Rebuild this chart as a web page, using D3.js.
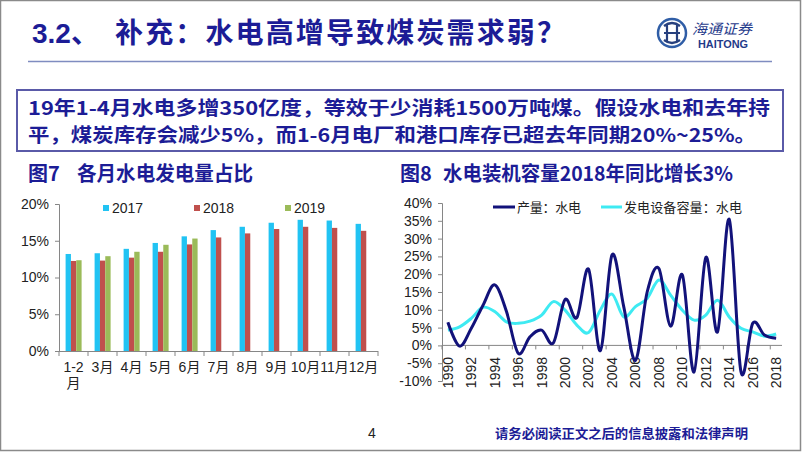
<!DOCTYPE html>
<html><head><meta charset="utf-8">
<script src="https://cdn.jsdelivr.net/npm/d3@7"></script>
<style>
html,body{margin:0;padding:0;background:#fff;}
svg{display:block;}
</style></head>
<body>
<script>
// ---- data ----
const months = ["1-2月","3月","4月","5月","6月","7月","8月","9月","10月","11月","12月"];
const barSeries = ["2017","2018","2019"];
const share2017 = [13.2,13.3,13.9,14.7,15.6,16.45,16.9,17.45,17.85,17.75,17.3];
const share2018 = [12.25,12.3,12.7,13.5,14.5,15.45,16.0,16.6,16.9,16.75,16.35];
const share2019 = [12.35,12.9,13.5,14.45,15.3];
const barTicks = [0,5,10,15,20];

const years = d3.range(1990, 2019);
const lineSeries = ["产量：水电","发电设备容量：水电"];
const hydroOutput = [6.5,-0.2,4.8,11.3,17.0,9.5,-2.2,2.4,4.3,0.7,12.9,7.8,21.4,-1.5,25.4,10.9,-4.2,15.0,21.6,5.4,19.8,-7.5,24.7,3.8,35.4,-7.4,6.2,2.9,2.0];
const hydroCapacity = [4.3,5.2,7.6,10.7,9.5,6.6,6.2,6.8,8.5,12.3,9.9,5.7,3.6,9.9,14.4,8.0,10.9,13.2,18.4,14.1,9.9,7.1,8.5,12.7,8.0,4.8,3.8,2.6,3.2];
const lineTicks = [-10,-5,0,5,10,15,20,25,30,35,40];

const NAVY = "#1c1c96";
const CJK = "'Noto Sans CJK SC','Liberation Sans',sans-serif";
const LAT = "'Liberation Sans','Noto Sans CJK SC',sans-serif";

const svg = d3.select("body").append("svg").attr("width",802).attr("height",452);

// slide frame
svg.append("rect").attr("x",0.5).attr("y",0.5).attr("width",800).attr("height",450)
  .attr("fill","#fff").attr("stroke","#8a8a8a").attr("stroke-width",1.5);

// title
svg.append("text").attr("x",32).attr("y",43).attr("fill",NAVY)
  .style("font-family",LAT).style("font-weight","bold").style("font-size","28px").text("3.2、");
svg.append("text").attr("x",115).attr("y",43).attr("fill",NAVY)
  .style("font-family",CJK).style("font-weight","bold").style("font-size","28px")
  .attr("textLength",450).attr("lengthAdjust","spacing").text("补充：水电高增导致煤炭需求弱？");
svg.append("line").attr("x1",28).attr("x2",772).attr("y1",61.5).attr("y2",61.5)
  .attr("stroke","#7f8cc0").attr("stroke-width",1.5);

// logo
const logo = svg.append("g");
logo.append("circle").attr("cx",672).attr("cy",33).attr("r",14).attr("fill","none").attr("stroke","#2f5da6").attr("stroke-width",2.5);
logo.append("path").attr("d","M664,26 Q672,20 680,26 M664,40 Q672,46 680,40 M667,24 L667,42 M677,24 L677,42 M664,33 L680,33")
  .attr("fill","none").attr("stroke","#27407e").attr("stroke-width",2.2);
logo.append("text").attr("x",692).attr("y",34).attr("fill","#1f3a8a")
  .style("font-family",CJK).style("font-size","14px").style("font-style","italic")
  .attr("textLength",60).attr("lengthAdjust","spacingAndGlyphs").text("海通证券");
logo.append("text").attr("x",698).attr("y",48).attr("fill","#1f3a8a")
  .style("font-family",LAT).style("font-weight","bold").style("font-size","10px")
  .attr("textLength",50).attr("lengthAdjust","spacingAndGlyphs").text("HAITONG");

// text box
svg.append("rect").attr("x",17).attr("y",90).attr("width",766).attr("height",61)
  .attr("fill","#fff").attr("stroke","#5a5aa8").attr("stroke-width",2);
svg.append("text").attr("x",28).attr("y",115).attr("fill",NAVY)
  .style("font-family",CJK).style("font-weight","bold").style("font-size","19px")
  .attr("textLength",742).attr("lengthAdjust","spacingAndGlyphs")
  .text("19年1-4月水电多增350亿度，等效于少消耗1500万吨煤。假设水电和去年持");
svg.append("text").attr("x",28).attr("y",142).attr("fill",NAVY)
  .style("font-family",CJK).style("font-weight","bold").style("font-size","19px")
  .attr("textLength",728).attr("lengthAdjust","spacingAndGlyphs")
  .text("平，煤炭库存会减少5%，而1-6月电厂和港口库存已超去年同期20%~25%。");

// chart titles
function chartTitle(x, num, x2, w, txt){
  svg.append("text").attr("x",x).attr("y",181).attr("fill",NAVY)
    .style("font-family",CJK).style("font-weight","bold").style("font-size","20px").text(num);
  svg.append("text").attr("x",x2).attr("y",181).attr("fill",NAVY)
    .style("font-family",CJK).style("font-weight","bold").style("font-size","20px")
    .attr("textLength",w).attr("lengthAdjust","spacingAndGlyphs").text(txt);
}
chartTitle(28,"图7",77,176,"各月水电发电量占比");
chartTitle(400,"图8",443,290,"水电装机容量2018年同比增长3%");

// ---------- left: bar chart ----------
const xB = d3.scaleBand().domain(months).range([59,378]).padding(0);
const xSub = d3.scaleBand().domain(barSeries).range([6.6,22.6]).padding(0);
const yB = d3.scaleLinear().domain([0,20]).range([351,204]);
const barColors = {"2017":"#21c3f3","2018":"#c0504d","2019":"#9bbb59"};
const barData = {"2017":share2017,"2018":share2018,"2019":share2019};

const gB = svg.append("g");
barSeries.forEach(s=>{
  gB.selectAll(null).data(barData[s]).enter().append("rect")
    .attr("x",(d,i)=>xB(months[i])+xSub(s))
    .attr("width",xSub.bandwidth())
    .attr("y",d=>yB(d)).attr("height",d=>yB(0)-yB(d))
    .attr("fill",barColors[s]);
});
// y axis
const yAxB = gB.append("g").attr("transform","translate(59,0)")
  .call(d3.axisLeft(yB).tickValues(barTicks).tickFormat(d=>d+"%").tickSize(4).tickPadding(6));
yAxB.select(".domain").attr("stroke","#868686");
yAxB.selectAll(".tick line").attr("stroke","#868686");
yAxB.selectAll("text").style("font-family",LAT).style("font-size","14px").attr("fill","#222");
// x axis
gB.append("line").attr("x1",59).attr("x2",378).attr("y1",351.5).attr("y2",351.5).attr("stroke","#868686");
gB.selectAll(null).data(d3.range(months.length+1)).enter().append("line")
  .attr("x1",i=>59+i*xB.step()).attr("x2",i=>59+i*xB.step())
  .attr("y1",351).attr("y2",356).attr("stroke","#868686");
const xl = gB.selectAll(null).data(months).enter().append("text")
  .attr("x",d=>xB(d)+xB.bandwidth()/2).attr("y",372)
  .attr("text-anchor","middle").attr("fill","#222")
  .style("font-family",LAT).style("font-size","14px");
xl.each(function(d){
  const t=d3.select(this);
  if(d==="1-2月"){
    t.append("tspan").attr("x",xB(d)+xB.bandwidth()/2).text("1-2");
    t.append("tspan").attr("x",xB(d)+xB.bandwidth()/2).attr("dy",16).text("月");
  } else t.text(d);
});
// legend
const legB = [{s:"2017",x:103},{s:"2018",x:194},{s:"2019",x:285}];
legB.forEach(l=>{
  gB.append("rect").attr("x",l.x).attr("y",205).attr("width",6).attr("height",6).attr("fill",barColors[l.s]);
  gB.append("text").attr("x",l.x+9).attr("y",213).attr("fill","#222")
    .style("font-family",LAT).style("font-size","14px").text(l.s);
});

// ---------- right: line chart ----------
const xL = d3.scaleBand().domain(years).range([442,782]).padding(0);
const yL = d3.scaleLinear().domain([-10,40]).range([381,203]);
const gL = svg.append("g");
const yAxL = gL.append("g").attr("transform","translate(442,0)")
  .call(d3.axisLeft(yL).tickValues(lineTicks).tickFormat(d=>d+"%").tickSize(4).tickPadding(6));
yAxL.select(".domain").attr("stroke","#868686");
yAxL.selectAll(".tick line").attr("stroke","#868686");
yAxL.selectAll("text").style("font-family",LAT).style("font-size","14px").attr("fill","#222");
gL.append("line").attr("x1",442).attr("x2",782).attr("y1",yL(0)).attr("y2",yL(0)).attr("stroke","#868686");
gL.selectAll(null).data(d3.range(0,years.length+1,2)).enter().append("line")
  .attr("x1",i=>442+i*xL.step()).attr("x2",i=>442+i*xL.step())
  .attr("y1",yL(0)).attr("y2",yL(0)+4).attr("stroke","#868686");
gL.selectAll(null).data(years.filter(y=>y%2===0)).enter().append("text")
  .attr("transform",d=>`translate(${xL(d)+xL.bandwidth()/2},357) rotate(-90)`)
  .attr("text-anchor","end").attr("dy","0.35em").attr("fill","#222")
  .style("font-family",LAT).style("font-size","14px").text(d=>d);

const line = d3.line().x((d,i)=>xL(years[i])+xL.bandwidth()/2).y(d=>yL(d)).curve(d3.curveCardinal.tension(0));
gL.append("path").datum(hydroCapacity).attr("d",line).attr("fill","none")
  .attr("stroke","#3eeaf2").attr("stroke-width",3);
gL.append("path").datum(hydroOutput).attr("d",line).attr("fill","none")
  .attr("stroke","#12127a").attr("stroke-width",3);
// legend
gL.append("line").attr("x1",493).attr("x2",515).attr("y1",207).attr("y2",207).attr("stroke","#12127a").attr("stroke-width",3);
gL.append("text").attr("x",517).attr("y",212).attr("fill","#222")
  .style("font-family",CJK).style("font-size","13px")
  .attr("textLength",64).attr("lengthAdjust","spacing").text(lineSeries[0]);
gL.append("line").attr("x1",601).attr("x2",622).attr("y1",207).attr("y2",207).attr("stroke","#3eeaf2").attr("stroke-width",3);
gL.append("text").attr("x",624).attr("y",212).attr("fill","#222")
  .style("font-family",CJK).style("font-size","13px")
  .attr("textLength",118).attr("lengthAdjust","spacing").text(lineSeries[1]);

// footer
svg.append("text").attr("x",372).attr("y",438).attr("text-anchor","middle").attr("fill","#222")
  .style("font-family",LAT).style("font-size","14px").text("4");
svg.append("text").attr("x",495).attr("y",438).attr("fill",NAVY)
  .style("font-family",CJK).style("font-weight","bold").style("font-size","13px")
  .attr("textLength",253).attr("lengthAdjust","spacingAndGlyphs").text("请务必阅读正文之后的信息披露和法律声明");
</script>
</body></html>
